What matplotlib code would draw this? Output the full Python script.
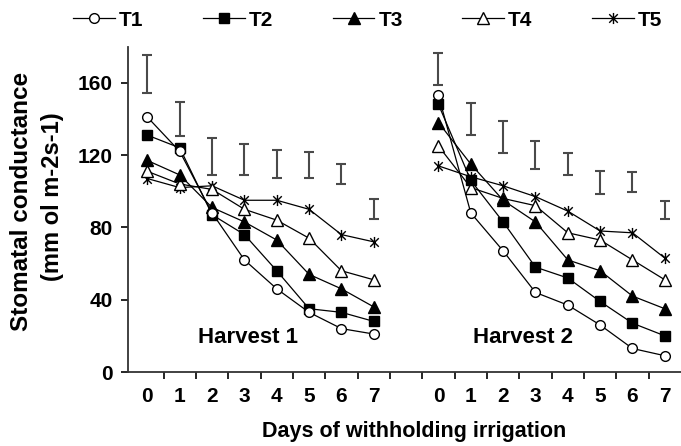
import matplotlib
matplotlib.use("Agg")
import matplotlib.pyplot as plt
import numpy as np
from matplotlib.path import Path

plt.rcParams["font.family"] = ["Liberation Sans", "DejaVu Sans"]
plt.rcParams["font.weight"] = "bold"

days = [0, 1, 2, 3, 4, 5, 6, 7]
gap = 9  # harvest 2 starts after one empty slot

# stomatal conductance, harvest 1
h1_T1 = [141, 122, 88, 62, 46, 33, 24, 21]
h1_T2 = [131, 124, 87, 76, 56, 35, 33, 28]
h1_T3 = [117, 109, 91, 83, 73, 54, 46, 36]
h1_T4 = [111, 104, 101, 90, 84, 74, 56, 51]
h1_T5 = [107, 102, 103, 95, 95, 90, 76, 72]

# harvest 2
h2_T1 = [153, 88, 67, 44, 37, 26, 13, 9]
h2_T2 = [148, 106, 83, 58, 52, 39, 27, 20]
h2_T3 = [138, 115, 95, 83, 62, 56, 42, 35]
h2_T4 = [125, 102, 96, 92, 77, 73, 62, 51]
h2_T5 = [114, 108, 103, 97, 89, 78, 77, 63]

# LSD bars (centre, half length)
h1_bar = [165, 140, 119, 117.5, 115, 114.5, 109.5, 90]
h1_err = [10.5, 9.5, 10.3, 8.5, 7.6, 7.4, 5.5, 5.6]
h2_bar = [167.5, 140, 130, 120, 115, 105, 105, 89.5]
h2_err = [8.8, 8.7, 9, 7.6, 6.3, 6.4, 5.5, 4.9]

labels = ["T1", "T2", "T3", "T4", "T5"]

# excel style star: an x with a vertical stroke
star = Path([(-1, -1), (1, 1), (-1, 1), (1, -1), (0, -1.3), (0, 1.3)],
            [Path.MOVETO, Path.LINETO, Path.MOVETO, Path.LINETO, Path.MOVETO, Path.LINETO])

styles = [
    dict(marker="o", mfc="white", ms=7),
    dict(marker="s", mfc="black", ms=7),
    dict(marker="^", mfc="black", ms=8),
    dict(marker="^", mfc="white", ms=8),
    dict(marker=star, mfc="black", ms=8),
]

fig = plt.figure(figsize=(6.81, 4.46), dpi=100)
ax = fig.add_axes([128 / 681, 74 / 446, 553 / 681, 325.4 / 446])

x1 = np.array(days)
x2 = np.array(days) + gap

for xs, bar, err in [(x1, h1_bar, h1_err), (x2, h2_bar, h2_err)]:
    ax.errorbar(xs, bar, yerr=err, fmt="none", ecolor="#4a4a4a",
                elinewidth=1.5, capsize=3.3, capthick=1.5, zorder=1)

h1 = [h1_T1, h1_T2, h1_T3, h1_T4, h1_T5]
h2 = [h2_T1, h2_T2, h2_T3, h2_T4, h2_T5]
for i in range(5):
    st = styles[i]
    for xs, ys in [(x1, h1[i]), (x2, h2[i])]:
        ax.plot(xs, ys, color="black", lw=0.9, mec="black", mew=1.0,
                label=labels[i] if xs is x1 else None, zorder=2 + (4 - i) * 0.1, **st)

ax.set_xlim(-0.6, 16.5)
ax.set_ylim(0, 180)
ax.set_yticks([0, 40, 80, 120, 160])
ax.set_xticks(list(x1) + list(x2))
ax.set_xticklabels([str(d) for d in days] * 2)
ax.set_xticks(np.arange(0.5, 16, 1), minor=True)
ax.tick_params(axis="x", which="major", length=0, pad=11, labelsize=15)
ax.tick_params(axis="x", which="minor", length=5, width=1.2, direction="out")
ax.tick_params(axis="y", length=5, width=1.2, pad=6, labelsize=15)
for s in ["top", "right"]:
    ax.spines[s].set_visible(False)
for s in ["left", "bottom"]:
    ax.spines[s].set_linewidth(1.3)
    ax.spines[s].set_color("#333333")

ax.text(3.1, 19, "Harvest 1", ha="center", va="center", fontsize=16, fontweight="bold")
ax.text(11.6, 19, "Harvest 2", ha="center", va="center", fontsize=16, fontweight="bold")

fig.text(414 / 681, 1 - 432 / 446, "Days of withholding irrigation",
         ha="center", va="center", fontsize=15.5, fontweight="bold")
fig.text(22 / 681, 1 - 201 / 446, "Stomatal conductance", rotation=90,
         ha="center", va="center", fontsize=17.5, fontweight="bold")
fig.text(53 / 681, 1 - 197 / 446, "(mm ol m-2s-1)", rotation=90,
         ha="center", va="center", fontsize=17, fontweight="bold")

fig.legend(loc="center", bbox_to_anchor=(0.54, 1 - 20 / 446), ncol=5,
           frameon=False, fontsize=15, handlelength=2.0, handletextpad=0.2,
           columnspacing=2.85)

fig.savefig("out.png", dpi=100)
plt.close(fig)
